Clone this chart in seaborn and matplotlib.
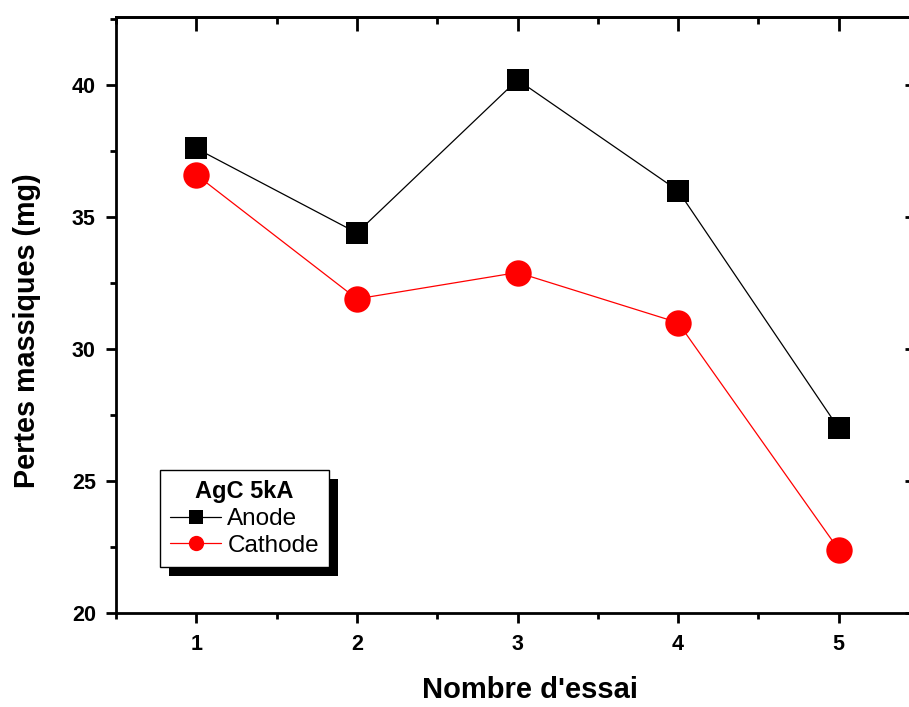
import matplotlib
matplotlib.use("Agg")
import matplotlib.pyplot as plt
import seaborn as sns
import pandas as pd
from matplotlib.patches import Rectangle
from matplotlib.transforms import IdentityTransform
from matplotlib.ticker import MultipleLocator

essai = [1, 2, 3, 4, 5]
anode = [37.6, 34.4, 40.2, 36.0, 27.0]
cathode = [36.6, 31.9, 32.9, 31.0, 22.4]
series_names = ["Anode", "Cathode"]
legend_title = "AgC 5kA"

sns.set_theme(style="white")
plt.rcParams['font.family'] = ['Liberation Sans', 'DejaVu Sans']
plt.rcParams['text.color'] = 'black'
plt.rcParams['axes.labelcolor'] = 'black'
plt.rcParams['xtick.color'] = 'black'
plt.rcParams['ytick.color'] = 'black'

df = pd.DataFrame({
    "essai": essai * 2,
    "val": anode + cathode,
    "serie": [series_names[0]] * 5 + [series_names[1]] * 5,
})

fig = plt.figure(figsize=(9.09, 7.07), dpi=100)
ax = fig.add_axes([116/909, 1 - 613/707, (919 - 116)/909, (613 - 17)/707])

sns.lineplot(data=df, x="essai", y="val", hue="serie", style="serie",
             markers={"Anode": "s", "Cathode": "o"}, dashes=False,
             palette={"Anode": "black", "Cathode": "red"},
             linewidth=0.9, markersize=16, markeredgewidth=0, ax=ax, legend=False)
for ln in ax.lines:
    if ln.get_marker() == "o":
        ln.set_markersize(19)

ax.set_xlim(0.5, 5.5)
ax.set_ylim(20, 42.58)
ax.xaxis.set_major_locator(MultipleLocator(1))
ax.xaxis.set_minor_locator(MultipleLocator(0.5))
ax.yaxis.set_major_locator(MultipleLocator(5))
ax.yaxis.set_minor_locator(MultipleLocator(2.5))

for s in ax.spines.values():
    s.set_color("black")
    s.set_linewidth(2)

ax.tick_params(which="both", direction="out", color="black", width=2,
               bottom=True, left=True, top=False, right=False)
ax.tick_params(which="major", length=7)
ax.tick_params(which="minor", length=4)
ax.tick_params(axis="y", labelsize=15.5, pad=7.5)
ax.tick_params(axis="x", labelsize=15.5, pad=8)
for lab in ax.get_xticklabels() + ax.get_yticklabels():
    lab.set_fontweight("bold")

secx = ax.secondary_xaxis("top")
secx.xaxis.set_major_locator(MultipleLocator(1))
secx.xaxis.set_minor_locator(MultipleLocator(0.5))
secx.tick_params(which="both", direction="in", width=2, color="black", labeltop=False)
secx.tick_params(which="major", length=10)
secx.tick_params(which="minor", length=5)
secx.spines["top"].set_linewidth(2)
secy = ax.secondary_yaxis("right")
secy.yaxis.set_major_locator(MultipleLocator(5))
secy.yaxis.set_minor_locator(MultipleLocator(2.5))
secy.tick_params(which="both", direction="in", width=2, color="black", labelright=False)
secy.tick_params(which="major", length=10)
secy.tick_params(which="minor", length=5)

ax.set_xlabel("Nombre d'essai", fontsize=21, fontweight="bold", labelpad=15)
ax.set_ylabel("Pertes massiques (mg)", fontsize=20.7, fontweight="bold", labelpad=22)
ax.xaxis.label.set_x((529.5 - 116) / 803)
ax.yaxis.label.set_y((613 - 331) / 596)

handles = [
    plt.Line2D([], [], color="black", lw=0.9, marker="s", markersize=9.5, markeredgewidth=0),
    plt.Line2D([], [], color="red", lw=0.9, marker="o", markersize=11, markeredgewidth=0),
]
leg = ax.legend(handles, series_names, title=legend_title, loc="upper left",
                bbox_to_anchor=(160/909, 1 - 470/707), bbox_transform=fig.transFigure,
                fontsize=17.5, title_fontproperties={"weight": "bold", "size": 17},
                frameon=True, fancybox=False, handlelength=2.1, handletextpad=0.25,
                borderpad=0.42, labelspacing=0.2, borderaxespad=0)
leg.get_frame().set_edgecolor("black")
leg.get_frame().set_linewidth(1)
leg.get_frame().set_alpha(1)
leg.set_zorder(6)

fig.canvas.draw()
bb = leg.get_window_extent()
shadow = Rectangle((bb.x0 + 9, bb.y0 - 9), bb.width, bb.height, transform=IdentityTransform(),
                   facecolor="black", edgecolor="none", zorder=5)
ax.add_artist(shadow)

fig.savefig("out.png", dpi=100)
